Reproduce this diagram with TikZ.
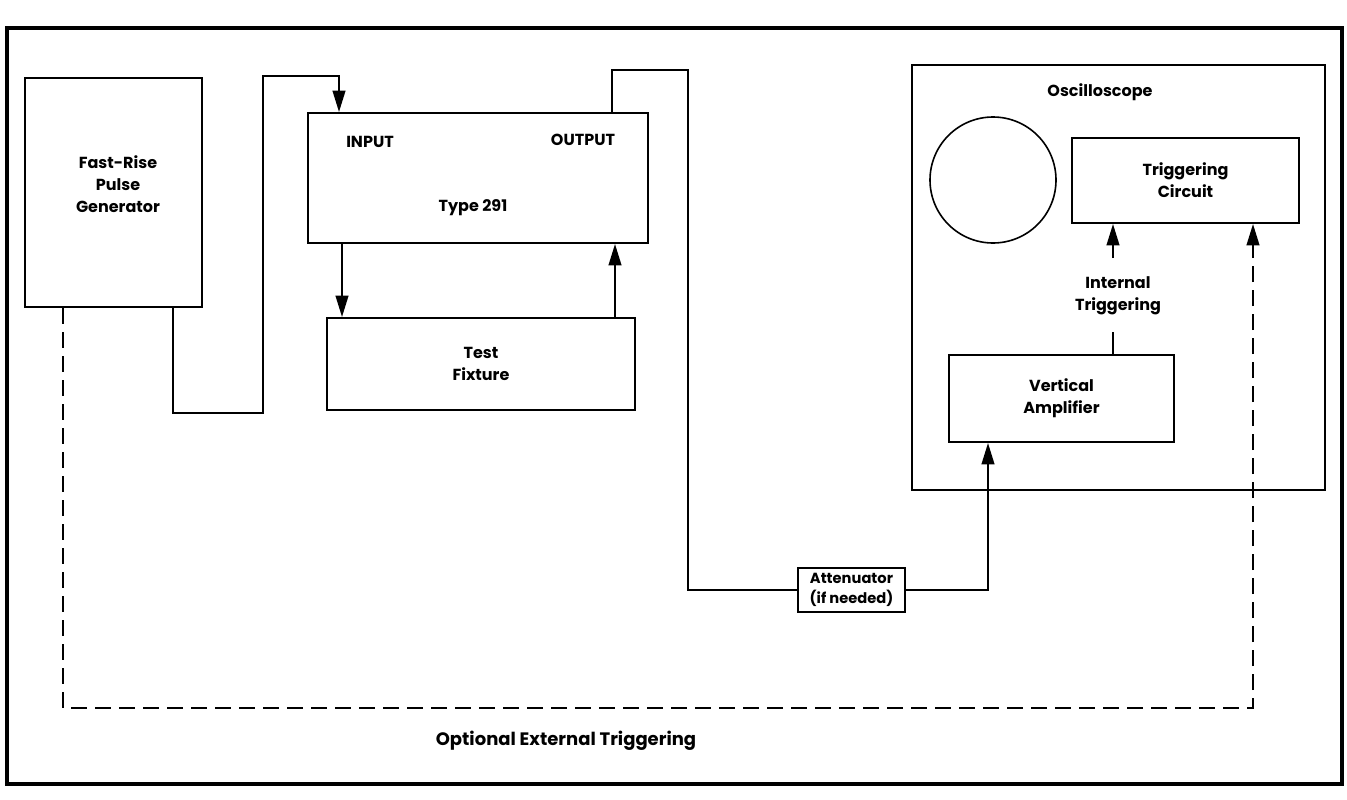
\documentclass[tikz,border=0pt]{standalone}
\usepackage{fontspec}
\setmainfont{Poppins}
\usetikzlibrary{arrows.meta}
\begin{document}
\begin{tikzpicture}[x=0.75pt,y=-0.75pt,
  txt/.style={font=\fontsize{12}{16.5}\selectfont\bfseries, align=center, inner sep=0pt},
  box/.style={draw, line width=1.5pt, rectangle, inner sep=0pt, align=center, font=\fontsize{12}{16.5}\selectfont\bfseries},
  conn/.style={line width=1.5pt},
  tip/.style={-{Triangle[length=16pt,width=9.5pt]}},
  arr/.style={conn, tip},
  dash conn/.style={line width=1.5pt, dash pattern=on 12pt off 6pt}
]
\useasboundingbox (0,0) rectangle (1347,800);
% outer frame
\draw[line width=2.3pt] (7,28) rectangle (1342,784);

% boxes
\node[box, minimum width=132.75pt, minimum height=171.75pt] (gen) at (113.5,192.5) {};
\node[txt] (gentext) at (118,184) {Fast-Rise\\Pulse\\Generator};

\node[box, minimum width=255pt, minimum height=97.5pt] (t291) at (478,178) {};
\node[txt] (inlab) at (370,142) {INPUT};
\node[txt] (outlab) at (583,140) {OUTPUT};
\node[txt] (typelab) at (473,208) {Type 291};

\node[box, minimum width=231pt, minimum height=69pt] (tf) at (481,364) {Test\\Fixture};

\node[box, minimum width=80.25pt, minimum height=33pt, font=\fontsize{11}{15}\selectfont\bfseries] (att) at (851.5,590) {Attenuator\\(if needed)};

\node[box, minimum width=309.75pt, minimum height=318.75pt] (osc) at (1118.5,277.5) {};
\node[txt] (osclab) at (1100,92) {Oscilloscope};
\node[draw, circle, line width=1.2pt, minimum size=94.5pt, inner sep=0pt] (crt) at (993,180) {};

\node[box, minimum width=170.25pt, minimum height=63.75pt] (trig) at (1185.5,180.5) {Triggering\\Circuit};
\node[box, minimum width=168.75pt, minimum height=65.25pt] (va) at (1061.5,398.5) {Vertical\\Amplifier};
\node[txt] (itlab) at (1118,296) {Internal\\Triggering};
\node[txt, font=\fontsize{13.5}{16.5}\selectfont\bfseries] (extlab) at (566,741) {Optional External Triggering};

% connectors
\coordinate (g1) at (263,413);
\coordinate (g2) at (339,76);
\draw[arr] (173,0 |- gen.south) |- (g1) |- (g2) -- (339,0 |- t291.north);

\draw[arr] (342,0 |- t291.south) -- (342,0 |- tf.north);
\draw[arr] (615,0 |- tf.north) -- (615,0 |- t291.south);

\coordinate (o1) at (688,70);
\draw[conn] (612,0 |- t291.north) |- (o1) |- (att.west);
\draw[arr] (att.east) -| (988,0 |- va.south);

\coordinate (itb) at (1113,332);
\coordinate (itt) at (1113,258);
\draw[conn] (1113,0 |- va.north) -- (itb);
\draw[arr] (itt) -- (1113,0 |- trig.south);

\coordinate (d1) at (1253,708);
\draw[dash conn, tip] (63,0 |- gen.south) |- (d1) -- (1253,0 |- trig.south);
\end{tikzpicture}
\end{document}
